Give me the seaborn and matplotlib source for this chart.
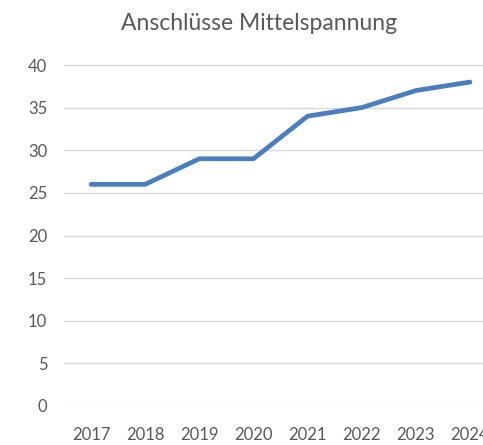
import matplotlib
matplotlib.use("Agg")
import matplotlib.pyplot as plt
import seaborn as sns
import pandas as pd

# Data
years = ["2017", "2018", "2019", "2020", "2021", "2022", "2023", "2024"]
anschluesse = [26, 26, 29, 29, 34, 35, 37, 38]

df = pd.DataFrame({"Jahr": years, "Anschlüsse": anschluesse})

sns.set_style("white")
plt.rcParams['font.family'] = ['Lato', 'DejaVu Sans']

fig = plt.figure(figsize=(4.83, 4.45), dpi=100)
# plot area runs past the right edge, like the cropped original
ax = fig.add_axes([64 / 483, 39 / 445, 433 / 483, 341 / 445])

sns.lineplot(x="Jahr", y="Anschlüsse", data=df, ax=ax, color="#4a7ebf",
             linewidth=3.4, solid_capstyle="round", solid_joinstyle="round", zorder=3)

ax.set_xlim(-0.5, len(years) - 0.5)
ax.set_ylim(0, 40)
ax.set_yticks(range(0, 41, 5))
ax.yaxis.grid(True, color="#d9d9d9", linewidth=1.0)
ax.set_axisbelow(True)
for s in ax.spines.values():
    s.set_visible(False)

ax.tick_params(axis="y", length=0, pad=12, labelsize=12, labelcolor="#595959")
ax.tick_params(axis="x", length=0, pad=15, labelsize=12, labelcolor="#595959")
ax.set_xlabel("")
ax.set_ylabel("")

fig.text(259 / 483, 1 - 23 / 445, "Anschlüsse Mittelspannung", ha="center", va="center",
         fontsize=16.5, color="#595959")

fig.savefig("out.png", dpi=100)
